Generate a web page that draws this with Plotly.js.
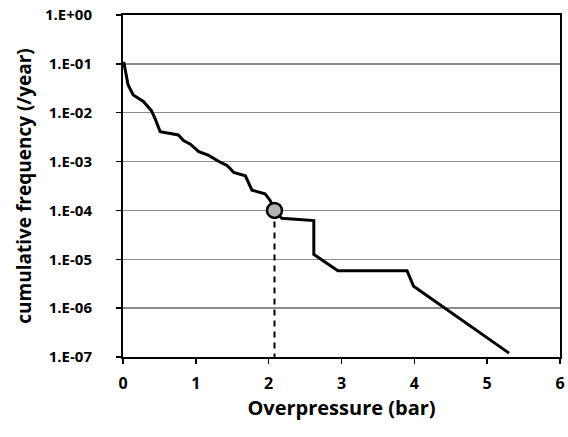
<!DOCTYPE html>
<html>
<head>
<meta charset="utf-8">
<script src="https://cdn.plot.ly/plotly-3.0.1.min.js"></script>
<style>html,body{margin:0;padding:0;background:#fff;}#chart{width:568px;height:437px;}</style>
</head>
<body>
<div id="chart"></div>
<script>
const overpressure = [0.01, 0.04, 0.07, 0.14, 0.28, 0.39, 0.44, 0.51, 0.76, 0.83, 0.92, 1.04, 1.17, 1.33, 1.43, 1.52, 1.68, 1.77, 1.95, 2.02, 2.08, 2.18, 2.62, 2.62, 2.89, 2.95, 3.90, 3.99, 5.30];
const frequency = [1.1e-1, 6.3e-2, 3.7e-2, 2.3e-2, 1.7e-2, 1.1e-2, 7.6e-3, 4.1e-3, 3.5e-3, 2.7e-3, 2.3e-3, 1.6e-3, 1.35e-3, 9.8e-4, 8.3e-4, 6.0e-4, 5.1e-4, 2.6e-4, 2.2e-4, 1.6e-4, 1.0e-4, 6.9e-5, 6.2e-5, 1.26e-5, 6.8e-6, 5.8e-6, 5.8e-6, 2.8e-6, 1.2e-7];
const markX = [2.08];
const markY = [1.0e-4];
const dropX = [2.08, 2.08];
const dropY = [1.0e-4, 1.0e-7];
const yTickVals = [1, 1e-1, 1e-2, 1e-3, 1e-4, 1e-5, 1e-6, 1e-7];
const yTickText = ["1.E+00", "1.E-01", "1.E-02", "1.E-03", "1.E-04", "1.E-05", "1.E-06", "1.E-07"];
const xTickVals = [0, 1, 2, 3, 4, 5, 6];

const font = "'Open Sans', sans-serif";
const data = [
  {x: dropX, y: dropY, mode: 'lines', line: {color: '#000', width: 2, dash: '6px,5px'}, hoverinfo: 'skip'},
  {x: overpressure, y: frequency, mode: 'lines', line: {color: '#000', width: 3}},
  {x: markX, y: markY, mode: 'markers', marker: {size: 15, color: '#b4b4b4', line: {color: '#000', width: 2.5}}}
];
const layout = {
  width: 568, height: 437,
  margin: {l: 123, r: 8, t: 15, b: 80},
  paper_bgcolor: '#fff', plot_bgcolor: '#fff',
  showlegend: false,
  font: {family: font, color: '#000'},
  xaxis: {
    range: [0, 6], tickvals: xTickVals, ticks: 'outside', ticklen: 5, tickcolor: '#000', tickwidth: 1.5,
    ticklabelstandoff: 6,
    showgrid: false, zeroline: false, showline: true, linecolor: '#000', linewidth: 2, mirror: true,
    tickfont: {family: font, size: 16, color: '#000', weight: 'bold'},
    title: {text: 'Overpressure (bar)', font: {family: font, size: 20, color: '#000', weight: 'bold'}, standoff: 1}
  },
  yaxis: {
    type: 'log', range: [-7, 0], tickvals: yTickVals, ticktext: yTickText,
    ticks: 'outside', ticklen: 5, tickcolor: '#000', tickwidth: 1.5,
    ticklabelstandoff: 21,
    showgrid: true, gridcolor: '#8c8c8c', gridwidth: 1.5,
    zeroline: false, showline: true, linecolor: '#000', linewidth: 2, mirror: true,
    tickfont: {family: font, size: 15, color: '#000', weight: 'bold'},
    title: {text: 'cumulative frequency (/year)', font: {family: font, size: 19, color: '#000', weight: 'bold'}, standoff: 8}
  }
};
Plotly.newPlot('chart', data, layout, {staticPlot: true});
</script>
</body>
</html>
